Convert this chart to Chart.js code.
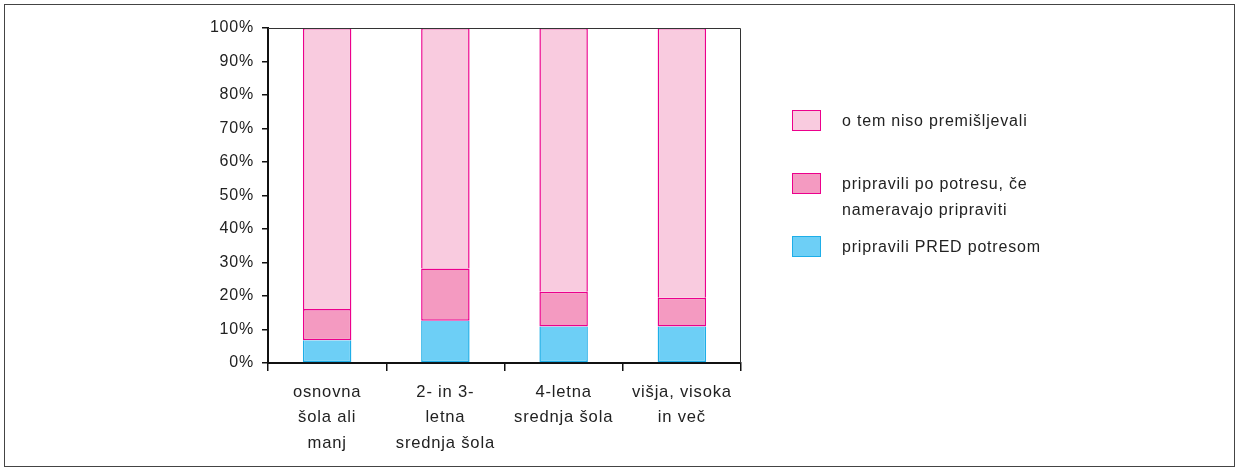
<!DOCTYPE html>
<html>
<head>
<meta charset="utf-8">
<script src="https://cdn.jsdelivr.net/npm/chart.js@4"></script>
<style>
  body { margin:0; background:#fff; font-family:"Liberation Sans", Arial, sans-serif; }
  #wrap { position:relative; width:1238px; height:469px; }
  #frame { position:absolute; left:4px; top:4px; width:1229px; height:461px; border:1px solid #444; pointer-events:none; }
  .lg-item { position:absolute; left:792px; display:flex; align-items:flex-start; }
  .lg-box { width:27px; height:19px; border:1.5px solid #ec008c; margin-right:21px; flex:none; }
  .lg-text { font-size:16px; letter-spacing:0.8px; color:#222; line-height:26px; white-space:pre-line; margin-top:-2px; }
</style>
</head>
<body>
<div id="wrap">
  <canvas id="chart" width="1238" height="469"></canvas>
  <div id="legend"></div>
  <div id="frame"></div>
</div>
<script>
// categories (x axis, multi-line)
const categories = [
  ['osnovna', 'šola ali', 'manj'],
  ['2- in 3-', 'letna', 'srednja šola'],
  ['4-letna', 'srednja šola'],
  ['višja, visoka', 'in več']
];

// series values, percent of respondents
const predPotresom      = [6.8, 12.6, 10.9, 10.9];
const poPotresu         = [9.3, 15.6, 10.4, 8.6];
const nisoPremisljevali = [83.9, 71.8, 78.7, 80.5];

const seriesLabels = [
  'pripravili PRED potresom',
  'pripravili po potresu, če\nnameravajo pripraviti',
  'o tem niso premišljevali'
];
const fills   = ['#6dcff6', '#f49ac1', '#f9cbdf'];
const borders = ['#1eaee8', '#ec008c', '#ec008c'];
// so neighbouring segments share one magenta edge
const skipped = ['top', false, 'bottom'];

// y axis
const yMax = 100;
const yStep = 10;

const FONT = '"Liberation Sans", Arial, sans-serif';

const datasets = [predPotresom, poPotresu, nisoPremisljevali].map((d, i) => ({
  label: seriesLabels[i],
  data: d,
  backgroundColor: fills[i],
  borderColor: borders[i],
  borderWidth: 1.5,
  borderSkipped: skipped[i],
  categoryPercentage: 1,
  barPercentage: 0.41
}));

// wider tracking like the original lettering
const tracking = {
  id: 'tracking',
  beforeDraw(chart) { chart.ctx.letterSpacing = '0.8px'; }
};

// thin frame on top/right of the plot area
const plotFrame = {
  id: 'plotFrame',
  afterDraw(chart) {
    const { ctx, chartArea: a } = chart;
    ctx.save();
    ctx.strokeStyle = '#333';
    ctx.lineWidth = 1;
    ctx.beginPath();
    ctx.moveTo(a.left, a.top + 0.5);
    ctx.lineTo(a.right - 0.5, a.top + 0.5);
    ctx.lineTo(a.right - 0.5, a.bottom);
    ctx.stroke();
    ctx.restore();
  }
};

new Chart(document.getElementById('chart'), {
  type: 'bar',
  data: { labels: categories, datasets },
  plugins: [tracking, plotFrame],
  options: {
    responsive: false,
    animation: false,
    layout: { padding: { top: 28, right: 497, bottom: 0, left: 0 } },
    plugins: { legend: { display: false }, tooltip: { enabled: false } },
    scales: {
      x: {
        stacked: true,
        afterFit: s => { s.height = 106; },
        border: { color: '#111', width: 2 },
        grid: { offset: true, drawOnChartArea: false, color: '#111', lineWidth: 1.5, tickLength: 8 },
        ticks: { color: '#222', maxRotation: 0, autoSkip: false, padding: 9,
                 font: { family: FONT, size: 16.6, lineHeight: 1.52 } }
      },
      y: {
        stacked: true,
        min: 0, max: yMax,
        afterFit: s => { s.width = 268; },
        border: { color: '#111', width: 2 },
        grid: { drawOnChartArea: false, color: '#111', lineWidth: 1.5, tickLength: 6 },
        ticks: { stepSize: yStep, color: '#222', padding: 8,
                 callback: v => v + '%',
                 font: { family: FONT, size: 16 } }
      }
    }
  }
});

// legend (top item = last dataset)
const legendTops = [236, 173, 110];
const legend = document.getElementById('legend');
datasets.forEach((ds, i) => {
  const item = document.createElement('div');
  item.className = 'lg-item';
  item.style.top = legendTops[i] + 'px';
  item.innerHTML = `<div class="lg-box" style="background:${ds.backgroundColor}; border-color:${ds.borderColor}"></div>
                    <div class="lg-text">${ds.label}</div>`;
  legend.appendChild(item);
});
</script>
</body>
</html>
